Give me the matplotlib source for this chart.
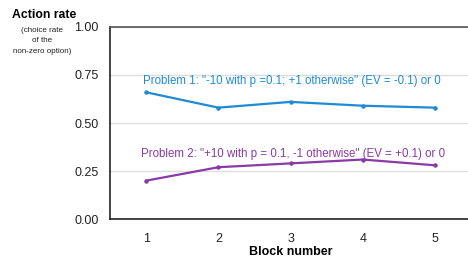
import matplotlib
matplotlib.use("Agg")
import matplotlib.pyplot as plt

plt.rcParams["font.family"] = ["Liberation Sans", "DejaVu Sans"]

blocks = [1, 2, 3, 4, 5]
problem1 = [0.66, 0.58, 0.61, 0.59, 0.58]
problem2 = [0.20, 0.27, 0.29, 0.31, 0.28]
label1 = 'Problem 1: "-10 with p =0.1; +1 otherwise" (EV = -0.1) or 0'
label2 = 'Problem 2: "+10 with p = 0.1, -1 otherwise" (EV = +0.1) or 0'
yticks = [0.0, 0.25, 0.5, 0.75, 1.0]

BLUE = "#1f8bd3"
PURPLE = "#8a3aa6"

fig = plt.figure(figsize=(4.68, 2.59), dpi=100)
ax = fig.add_axes([0.235, 0.154, 0.772, 0.742])

ax.plot(blocks, problem1, color=BLUE, lw=1.6, marker="o", ms=2.2, zorder=3)
ax.plot(blocks, problem2, color=PURPLE, lw=1.6, marker="o", ms=2.2, zorder=3)

ax.text(3.02, 0.72, label1, color=BLUE, ha="center", va="center", fontsize=8.3)
ax.text(3.03, 0.34, label2, color=PURPLE, ha="center", va="center", fontsize=8.3)

ax.set_xlim(0.5, 5.5)
ax.set_ylim(0, 1)
ax.set_xticks(blocks)
ax.set_yticks(yticks)
ax.set_yticklabels([f"{v:.2f}" for v in yticks])
ax.tick_params(length=0, labelsize=9, colors="#222")
ax.tick_params(axis="y", pad=8)
ax.tick_params(axis="x", pad=10)
ax.grid(axis="y", color="#dddddd", lw=1)
ax.set_axisbelow(True)
for s in ("left", "bottom"):
    ax.spines[s].set_color("#222")
    ax.spines[s].set_linewidth(1.2)
ax.spines["top"].set_color("#555")
ax.spines["top"].set_linewidth(1.2)
ax.spines["right"].set_visible(False)

ax.set_xlabel("Block number", fontsize=9, fontweight="bold", labelpad=1)
fig.text(0.094, 0.942, "Action rate", fontsize=8.8, fontweight="bold", ha="center", va="center")
fig.text(0.09, 0.842, "(choice rate\nof the\nnon-zero option)", fontsize=5.8, ha="center",
         va="center", linespacing=1.65, color="#222")

fig.savefig("out.png", dpi=100)
